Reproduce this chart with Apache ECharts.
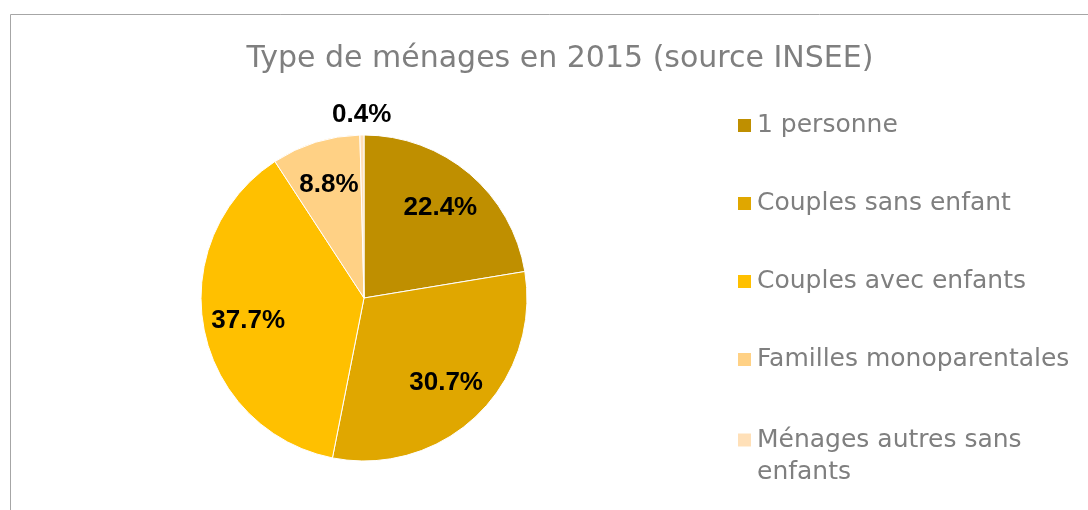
<!DOCTYPE html>
<html>
<head>
<meta charset="utf-8">
<script src="https://cdn.jsdelivr.net/npm/echarts@6/dist/echarts.min.js"></script>
<style>
  html, body { margin: 0; padding: 0; background: #fff; }
  #main { width: 1088px; height: 510px; }
</style>
</head>
<body>
<div id="main"></div>
<script>
// Type de ménages en 2015 (source INSEE)
var categories = ['1 personne', 'Couples sans enfant', 'Couples avec enfants', 'Familles monoparentales', 'Ménages autres sans enfants'];
var values = [22.4, 30.7, 37.7, 8.8, 0.4];
var colors = ['#BF8F00', '#E0A700', '#FFC000', '#FFD185', '#FFE0B8'];

var chart = echarts.init(document.getElementById('main'));

var center = [364, 298];
var R = 163;

function pieData(showFn, transparent) {
  var list = [];
  for (var i = 0; i < categories.length; i++) {
    list.push({
      name: categories[i],
      value: values[i],
      itemStyle: { color: transparent ? 'rgba(0,0,0,0)' : colors[i] },
      label: { show: showFn(i) }
    });
  }
  return list;
}

var labelStyle = {
  position: 'inside',
  color: '#000',
  fontFamily: 'Liberation Sans',
  fontWeight: 'bold',
  fontSize: 26,
  formatter: function (p) { return p.value.toFixed(1) + '%'; }
};

var legendFont = 'DejaVu Sans';

var option = {
  backgroundColor: '#FFFFFF',
  animation: false,
  title: {
    text: 'Type de ménages en 2015 (source INSEE)',
    left: 555,
    textAlign: 'center',
    top: 39,
    textStyle: { color: '#7F7F7F', fontFamily: legendFont, fontWeight: 'normal', fontSize: 30 }
  },
  graphic: [{
    type: 'rect',
    shape: { x: 10.5, y: 14.5, width: 1100, height: 600 },
    style: { fill: 'none', stroke: '#A6A6A6', lineWidth: 1 },
    silent: true
  }],
  legend: [{
    orient: 'vertical',
    left: 731,
    top: 104,
    itemWidth: 15,
    itemHeight: 15,
    itemGap: 45,
    icon: 'rect',
    data: categories.slice(0, 4),
    textStyle: { color: '#7F7F7F', fontFamily: legendFont, fontSize: 25, lineHeight: 33 }
  }, {
    orient: 'vertical',
    left: 731,
    top: 387,
    itemWidth: 15,
    itemHeight: 15,
    icon: 'rect',
    data: categories.slice(4),
    // empty first line keeps the icon level with the first text line
    formatter: function () { return '{e| }\n{t|Ménages autres sans}\n{t|enfants}'; },
    textStyle: {
      color: '#7F7F7F', fontFamily: legendFont, fontSize: 25, lineHeight: 32,
      rich: {
        e: { height: 32, lineHeight: 32, fontSize: 10 },
        t: { color: '#7F7F7F', fontFamily: legendFont, fontSize: 25, lineHeight: 32 }
      }
    }
  }],
  series: [
    {
      // the pie itself
      name: 'ménages',
      type: 'pie',
      center: center,
      radius: R,
      startAngle: 90,
      clockwise: true,
      label: { show: false },
      labelLine: { show: false },
      itemStyle: { borderColor: '#fff', borderWidth: 1 },
      emphasis: { disabled: true },
      data: pieData(function () { return false; }, false)
    },
    {
      // inside labels, placed at ~0.7 of radius
      name: 'labels',
      type: 'pie',
      center: center,
      radius: [67, R],
      startAngle: 90,
      clockwise: true,
      silent: true,
      legendHoverLink: false,
      label: labelStyle,
      labelLine: { show: false },
      data: pieData(function (i) { return values[i] >= 1; }, true)
    },
    {
      // small slice label outside the pie
      name: 'labels2',
      type: 'pie',
      center: center,
      radius: [R + 4, R + 30],
      startAngle: 90,
      clockwise: true,
      silent: true,
      legendHoverLink: false,
      label: labelStyle,
      labelLine: { show: false },
      data: pieData(function (i) { return values[i] < 1; }, true)
    }
  ]
};

chart.setOption(option);
</script>
</body>
</html>
